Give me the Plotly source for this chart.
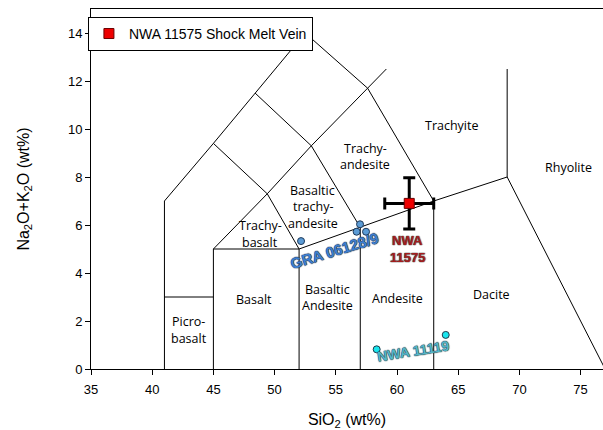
import plotly.graph_objects as go

# ---- TAS diagram boundary polylines (SiO2, Na2O+K2O) ----
line_outer_x = [41, 41, 45, 48.4, 52.5]
line_outer_y = [0, 7, 9.4, 11.5, 14]
line_picro_x = [41, 45]
line_picro_y = [3, 3]
line_basalt_x = [45, 45, 52, 57, 63, 69, 77]
line_basalt_y = [0, 5, 5, 5.9, 7, 8, 0]
line_v52_x = [52, 52]
line_v52_y = [0, 5]
line_v57_x = [57, 57]
line_v57_y = [0, 5.9]
line_v63_x = [63, 63]
line_v63_y = [0, 7]
line_v69_x = [69, 69]
line_v69_y = [8, 12.5]
line_tb_x = [45, 49.4, 52]
line_tb_y = [5, 7.3, 5]
line_tb2_x = [45, 49.4]
line_tb2_y = [9.4, 7.3]
line_bta_x = [49.4, 53, 57.6, 59.13]
line_bta_y = [7.3, 9.3, 11.7, 12.5]
line_ta_x = [48.4, 53, 57]
line_ta_y = [11.5, 9.3, 5.9]
line_tr_x = [52.5, 57.6, 63]
line_tr_y = [14, 11.7, 7]

boundaries = [
    (line_outer_x, line_outer_y), (line_picro_x, line_picro_y),
    (line_basalt_x, line_basalt_y), (line_v52_x, line_v52_y),
    (line_v57_x, line_v57_y), (line_v63_x, line_v63_y),
    (line_v69_x, line_v69_y), (line_tb_x, line_tb_y),
    (line_tb2_x, line_tb2_y), (line_bta_x, line_bta_y),
    (line_ta_x, line_ta_y), (line_tr_x, line_tr_y),
]

# ---- field names (each entry = lines of the label) ----
field_names = [["Picro-", "basalt"], ["Basalt"], ["Basaltic", "Andesite"], ["Andesite"],
               ["Dacite"], ["Trachy-", "basalt"], ["Basaltic", "trachy-", "andesite"],
               ["Trachy-", "andesite"], ["Trachyite"], ["Rhyolite"]]
field_x = [42.97, 48.3, 54.34, 60.08, 67.72, 48.81, 53.11, 57.39, 64.52, 74.0]
field_y = [1.63, 2.9, 2.98, 2.92, 3.12, 5.63, 6.76, 8.85, 10.13, 8.39]

# ---- samples ----
nwa11575_sio2 = [61.0]
nwa11575_alk = [6.9]
nwa11575_err_sio2 = 2.0
nwa11575_err_alk = 1.07

gra_sio2 = [56.98, 56.7, 57.47, 52.16]
gra_alk = [6.03, 5.72, 5.72, 5.33]

nwa11119_sio2 = [58.34, 63.98]
nwa11119_alk = [0.82, 1.42]

x_ticks = [35, 40, 45, 50, 55, 60, 65, 70, 75]
y_ticks = [0, 2, 4, 6, 8, 10, 12, 14]

fig = go.Figure()

bx, by = [], []
for xs, ys in boundaries:
    bx += list(xs) + [None]
    by += list(ys) + [None]
fig.add_trace(go.Scatter(x=bx, y=by, mode="lines", line=dict(color="black", width=1),
                         showlegend=False, hoverinfo="skip"))

fig.add_trace(go.Scatter(x=gra_sio2, y=gra_alk, mode="markers",
                         marker=dict(color="#5b9bd5", size=7, line=dict(color="#1f3a5a", width=1)),
                         showlegend=False))
fig.add_trace(go.Scatter(x=nwa11119_sio2, y=nwa11119_alk, mode="markers",
                         marker=dict(color="#19e6ee", size=7, line=dict(color="#1f3a4a", width=1)),
                         showlegend=False))
fig.add_trace(go.Scatter(x=nwa11575_sio2, y=nwa11575_alk, mode="markers",
                         name="NWA 11575 Shock Melt Vein",
                         marker=dict(symbol="square", color="#ee0000", size=10,
                                     line=dict(color="#6b0000", width=1)),
                         error_x=dict(type="constant", value=nwa11575_err_sio2, thickness=3,
                                      width=6, color="black"),
                         error_y=dict(type="constant", value=nwa11575_err_alk, thickness=3,
                                      width=6, color="black"),
                         showlegend=True))

FIELD_FONT = dict(family="Open Sans, Noto Sans, sans-serif", size=12.5, color="black")
LINE_H = 16.7
annotations = []
for lines, x, y in zip(field_names, field_x, field_y):
    n = len(lines)
    for i, t in enumerate(lines):
        annotations.append(dict(x=x, y=y, text=t, showarrow=False, font=FIELD_FONT,
                                xanchor="center", yanchor="middle", borderpad=0,
                                borderwidth=0, yshift=((n - 1) / 2 - i) * LINE_H))

def outline(c):
    return f"0 0 1px {c}, 0 0 1px {c}, 0 0 1px {c}"

annotations.append(dict(x=54.93, y=4.92, text="GRA 06128/9", showarrow=False, textangle=-17,
                        font=dict(family="Liberation Sans, Arial", size=15, color="#3f7fcf",
                                  weight="bold", shadow=outline("#1d2f4a")),
                        xanchor="center", yanchor="middle"))
for i, t in enumerate(["NWA", "11575"]):
    annotations.append(dict(x=60.84, y=5.01, text=t, showarrow=False,
                            yshift=(0.5 - i) * 17.5, borderpad=0, borderwidth=0,
                            font=dict(family="Liberation Sans, Arial", size=13, color="#a31d1d",
                                      weight="bold", shadow=outline("#555555")),
                            xanchor="center", yanchor="middle"))
annotations.append(dict(x=61.35, y=0.75, text="NWA 11119", showarrow=False, textangle=-9,
                        font=dict(family="Liberation Sans, Arial", size=14, color="#55b6c8",
                                  weight="bold", shadow=outline("#24414c")),
                        xanchor="center", yanchor="middle"))

AX_FONT = dict(family="Liberation Sans, Arial", size=16, color="black")
TICK_FONT = dict(family="Liberation Sans, Arial", size=13, color="black")

fig.update_layout(
    width=603, height=430,
    margin=dict(l=91, r=0, t=9, b=61, pad=0),
    plot_bgcolor="white", paper_bgcolor="white",
    annotations=annotations,
    showlegend=True,
    legend=dict(x=-0.006, y=0.978, xanchor="left", yanchor="top",
                bordercolor="black", borderwidth=1, bgcolor="white",
                font=dict(family="Liberation Sans, Arial", size=14, color="black"),
                itemwidth=30, tracegroupgap=0),
    xaxis=dict(range=[35, 76.83], tickvals=x_ticks, ticks="outside", ticklen=5,
               tickcolor="black", showline=True, linecolor="black", linewidth=1,
               mirror=True, showgrid=False, zeroline=False, ticklabelstandoff=3,
               tickfont=TICK_FONT,
               title=dict(text="SiO<sub>2</sub> (wt%)", font=AX_FONT, standoff=20)),
    yaxis=dict(range=[0, 15], tickvals=y_ticks, ticks="outside", ticklen=5,
               tickcolor="black", showline=True, linecolor="black", linewidth=1,
               showgrid=False, zeroline=False, tickfont=TICK_FONT,
               title=dict(text="Na<sub>2</sub>O+K<sub>2</sub>O (wt%)", font=AX_FONT,
                          standoff=34)),
)

fig.write_html("out.html")
